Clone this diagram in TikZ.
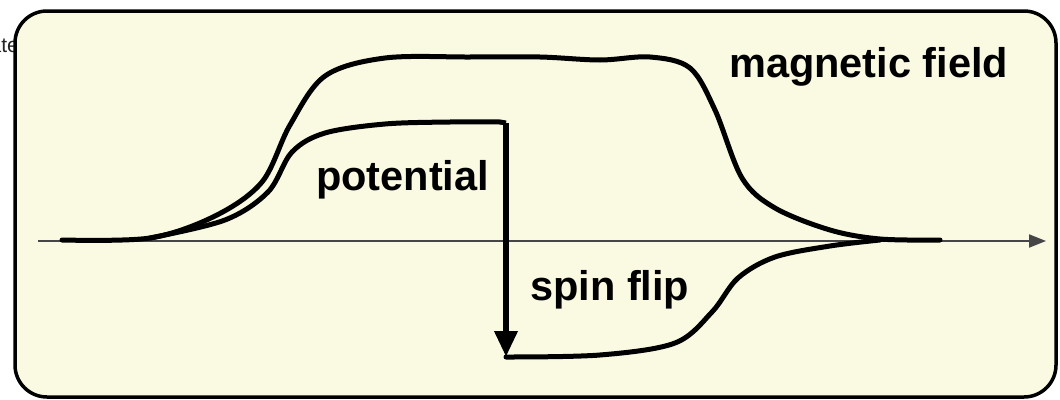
\documentclass[tikz,border=0pt]{standalone}
\usepackage{fontspec}
\setmainfont{Liberation Sans}
\usetikzlibrary{arrows.meta}
\definecolor{panel}{RGB}{250,250,227}
\definecolor{axisgray}{RGB}{70,70,70}
\tikzset{
  curve/.style={line width=5pt, line join=round, line cap=round},
  label/.style={font=\fontsize{41.5}{41.5}\selectfont\bfseries, inner sep=0pt},
}
\begin{document}
\begin{tikzpicture}[x=1pt,y=-1pt]
\useasboundingbox (0,0) rectangle (1060,399);
% cut-off caption at the left edge
\node[anchor=base east, font=\fontsize{21}{21}\selectfont, text=black!85, inner sep=0pt] (cut) at (19,52) {ate};
% panel
\draw[line width=3.5pt, fill=panel, rounded corners=32pt] (15,11) rectangle (1056,397);
% axis
\coordinate (ax0) at (38,241);
\coordinate (ax1) at (1046,241);
\draw[axisgray, line width=2pt, -{Triangle[length=17pt,width=13pt]}] (ax0) -- (ax1);
% magnetic field profile
\draw[curve] plot[smooth, tension=0.55] coordinates {
  (62,240) (150,238) (215,216) (262,182) (290,125) (325,76) (385,58)
  (470,57) (540,57) (600,60) (650,57) (690,68) (715,110) (742,178)
  (775,208) (830,230) (880,239) (940,240)};
% potential before the flip
\coordinate (ftop) at (506,123);
\coordinate (fbot) at (506,357);
\draw[curve] plot[smooth, tension=0.55] coordinates {
  (150,238) (225,220) (268,192) (292,152) (325,133) (385,124) (450,122) (500,122)};
\draw[line width=5pt] (500,122) -- (ftop);
% spin flip
\draw[line width=6.5pt, -{Triangle[length=26pt,width=22pt]}] (ftop) -- (fbot);
% potential after the flip
\draw[curve] plot[smooth, tension=0.55] coordinates {
  (506,357) (600,355) (675,343) (712,312) (738,278) (775,257) (830,246) (880,240)};
% labels
\node[label, anchor=base west] (mf) at (729,77) {magnetic field};
\node[label, anchor=base west] (pot) at (316,190) {potential};
\node[label, anchor=base west] (sf) at (530,300) {spin flip};
\end{tikzpicture}
\end{document}
